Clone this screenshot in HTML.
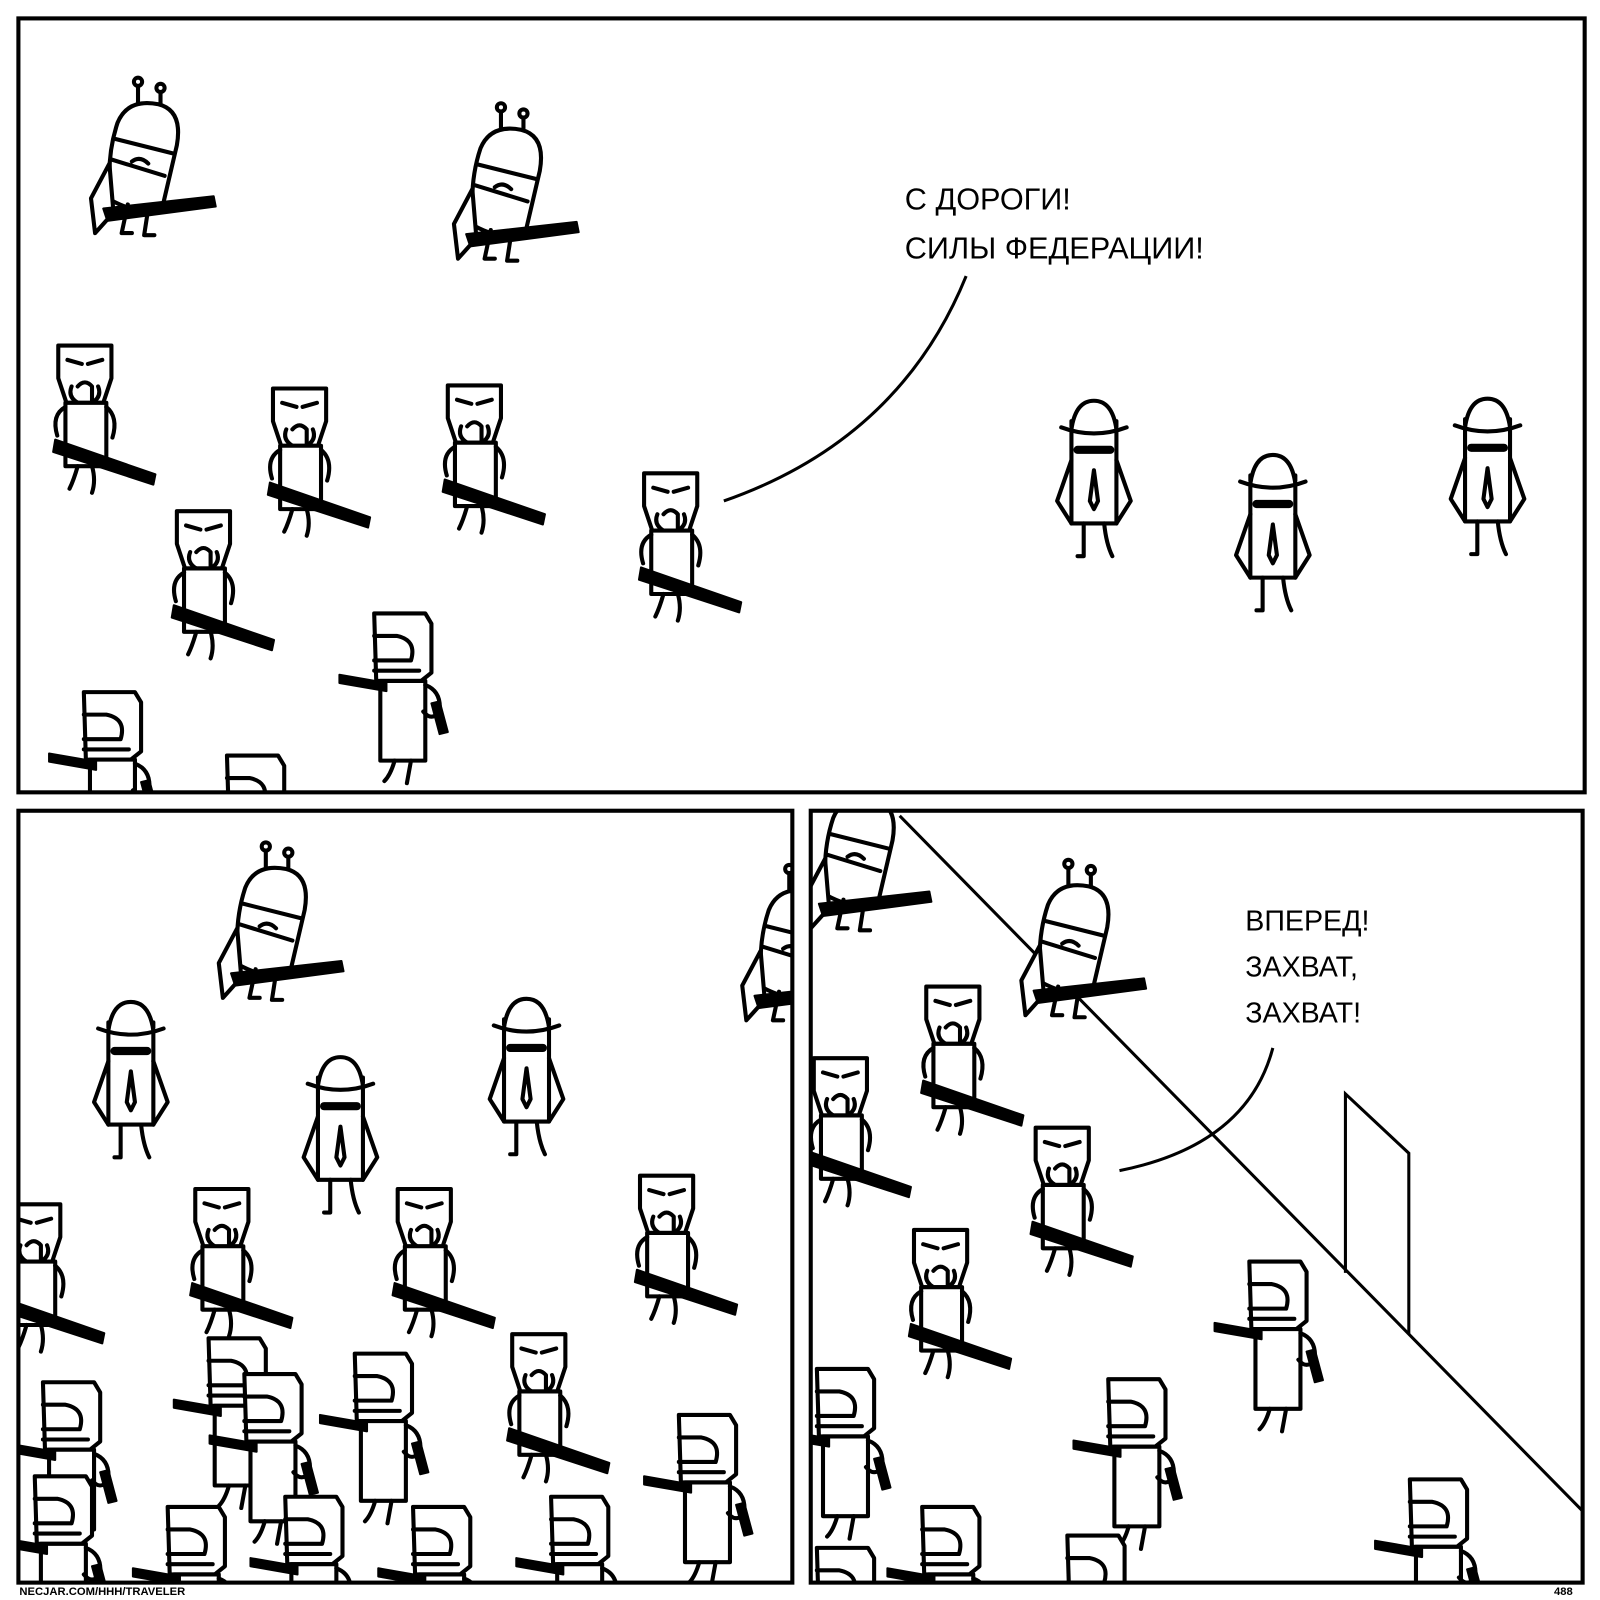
<!DOCTYPE html>
<html><head><meta charset="utf-8"><style>
html,body{margin:0;padding:0;background:#fff;width:1600px;height:1600px;overflow:hidden;}
svg{display:block;position:absolute;left:0;top:0}
text{font-family:"Liberation Sans","DejaVu Sans",sans-serif;}
</style></head><body>
<svg width="1600" height="1600" viewBox="0 0 1565 1565" xmlns="http://www.w3.org/2000/svg">
<defs>
<g id="t" fill="none" stroke="#000" stroke-width="4" stroke-linecap="round" stroke-linejoin="round">
 <path d="M5,0 h52 v32 l-8,24 h-36 l-8,-24z" fill="#fff"/>
 <path d="M14,14 l14,4 M48,14 l-14,4 M24,40 q7,-8 14,0 v16 M18,40 q-4,10 6,16 M44,40 q4,10 -6,16"/>
 <rect x="12" y="56" width="40" height="62" fill="#fff"/>
 <path d="M12,60 q-14,8 -8,28 M52,60 q12,10 6,30 M24,118 q-4,14 -8,22 M38,118 q4,14 0,26"/>
 <path d="M2,92 L100,126 L98,136 L0,104z" fill="#000" stroke-width="2"/>
</g>
<g id="h" fill="none" stroke="#000" stroke-width="4" stroke-linecap="round" stroke-linejoin="round">
 <path d="M4,4 h50 l6,10 v48 l-10,8 h-44z" fill="#fff"/>
 <path d="M4,26 h22 q20,4 14,24 h-36 M4,60 h44"/>
 <rect x="10" y="70" width="44" height="78" fill="#fff"/>
 <path d="M54,74 q16,6 14,26 q-8,10 -16,0 M24,148 q-4,14 -10,20 M40,148 l-4,22"/>
 <path d="M-30,64 l46,8 v8 l-46,-8z M60,92 l8,-2 l8,30 l-8,2z" fill="#000" stroke-width="2"/>
</g>
<g id="a" fill="none" stroke="#000" stroke-width="4" stroke-linecap="round" stroke-linejoin="round">
 <path d="M50,0 v20 M72,6 v18" /><circle cx="50" cy="0" r="4" fill="#fff"/><circle cx="72" cy="6" r="4" fill="#fff"/>
 <path d="M30,40 q10,-24 40,-18 q24,6 18,40 l-14,60 q-20,10 -50,-6 q-6,-40 6,-76z" fill="#fff"/>
 <path d="M28,56 l56,14 M24,76 l52,16 M44,78 q8,-6 16,2"/>
 <path d="M22,80 l-18,34 l4,34 l18,-20 z" fill="#fff"/>
 <path d="M40,120 l-6,28 h10 M60,124 l-4,26 h10"/>
 <path d="M16,124 L124,112 L126,122 L20,136z" fill="#000" stroke-width="2"/>
</g>
<g id="g" fill="none" stroke="#000" stroke-width="4" stroke-linecap="round" stroke-linejoin="round">
 <rect x="18" y="22" width="44" height="100" fill="#fff"/>
 <path d="M18,60 l-14,40 l14,22 M62,60 l14,40 l-14,22"/>
 <path d="M40,70 l-4,30 l4,8 l4,-8z"/>
 <path d="M8,28 q32,12 64,0 M18,30 q4,-28 22,-28 q18,0 22,28" fill="#fff"/>
 <path d="M24,50 h32" stroke-width="8"/>
 <path d="M30,122 v32 h-6 M50,122 q2,20 8,32"/>
</g>
<clipPath id="c1"><rect x="18" y="18" width="1532" height="757"/></clipPath>
<clipPath id="c2"><rect x="18" y="793" width="757" height="755"/></clipPath>
<clipPath id="c3"><rect x="793" y="793" width="755" height="755"/></clipPath>
</defs>
<rect width="1565" height="1565" fill="#fff"/>

<g clip-path="url(#c1)">
 <use href="#a" x="85" y="80"/><use href="#a" x="440" y="105"/>
 <use href="#t" x="52" y="338"/><use href="#t" x="262" y="380"/><use href="#t" x="433" y="377"/>
 <use href="#t" x="168" y="500"/><use href="#t" x="625" y="463"/>
 <use href="#h" x="362" y="596"/><use href="#h" x="78" y="673"/><use href="#h" x="218" y="735"/>
 <use href="#g" x="1030" y="390"/><use href="#g" x="1205" y="443"/><use href="#g" x="1415" y="388"/>
 <path d="M945,270 Q880,430 708,490" fill="none" stroke="#000" stroke-width="3"/>
 <text x="885" y="205" font-size="30">С ДОРОГИ!</text>
 <text x="885" y="253" font-size="30">СИЛЫ ФЕДЕРАЦИИ!</text>
</g>

<g clip-path="url(#c2)">
 <use href="#a" x="210" y="828"/><use href="#a" x="722" y="850"/>
 <use href="#g" x="88" y="978"/><use href="#g" x="293" y="1032"/><use href="#g" x="475" y="975"/>
 <use href="#t" x="186" y="1163"/><use href="#t" x="384" y="1163"/><use href="#t" x="621" y="1150"/>
 <use href="#t" x="496" y="1305"/><use href="#t" x="2" y="1178"/>
 <use href="#h" x="200" y="1305"/><use href="#h" x="343" y="1320"/><use href="#h" x="235" y="1340"/>
 <use href="#h" x="38" y="1348"/><use href="#h" x="660" y="1380"/><use href="#h" x="30" y="1440"/>
 <use href="#h" x="160" y="1470"/><use href="#h" x="275" y="1460"/><use href="#h" x="400" y="1470"/><use href="#h" x="535" y="1460"/>
</g>

<g clip-path="url(#c3)">
 <use href="#a" x="785" y="760"/>
 <path d="M880,798 L1548,1478" stroke="#000" stroke-width="3"/>
 <path d="M1316,1245 V1070 L1378,1128 V1305" fill="none" stroke="#000" stroke-width="3"/>
 <use href="#a" x="995" y="845"/>
 <use href="#t" x="901" y="965"/><use href="#t" x="791" y="1035"/><use href="#t" x="1008" y="1103"/><use href="#t" x="889" y="1203"/>
 <use href="#h" x="1218" y="1230"/><use href="#h" x="1080" y="1345"/><use href="#h" x="795" y="1335"/>
 <use href="#h" x="898" y="1470"/><use href="#h" x="1040" y="1498"/><use href="#h" x="1375" y="1443"/><use href="#h" x="795" y="1510"/>
 <path d="M1245,1025 Q1220,1120 1095,1145" fill="none" stroke="#000" stroke-width="3"/>
 <text x="1218" y="910" font-size="28">ВПЕРЕД!</text>
 <text x="1218" y="955" font-size="28">ЗАХВАТ,</text>
 <text x="1218" y="1000" font-size="28">ЗАХВАТ!</text>
</g>

<rect x="18" y="18" width="1532" height="757" fill="none" stroke="#000" stroke-width="4"/>
<rect x="18" y="793" width="757" height="755" fill="none" stroke="#000" stroke-width="4"/>
<rect x="793" y="793" width="755" height="755" fill="none" stroke="#000" stroke-width="4"/>
<text x="19" y="1560" font-size="11" font-weight="bold">NECJAR.COM/HHH/TRAVELER</text>
<text x="1520" y="1560" font-size="11" font-weight="bold">488</text>
</svg>
</body></html>
